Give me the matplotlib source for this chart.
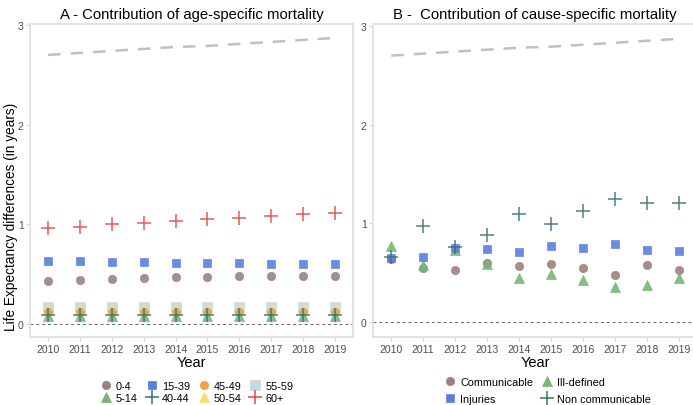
import matplotlib
matplotlib.use("Agg")
import matplotlib.pyplot as plt
from matplotlib.lines import Line2D

plt.rcParams['font.family'] = ['Liberation Sans', 'DejaVu Sans']

years = [2010, 2011, 2012, 2013, 2014, 2015, 2016, 2017, 2018, 2019]
total_le_diff = [2.70, 2.72, 2.74, 2.76, 2.78, 2.79, 2.81, 2.83, 2.85, 2.87]

# Panel A: age-specific contributions
age_groups = ['0-4', '5-14', '15-39', '40-44', '45-49', '50-54', '55-59', '60+']
age_0_4 = [0.43, 0.44, 0.45, 0.46, 0.47, 0.475, 0.48, 0.48, 0.48, 0.485]
age_5_14 = [0.08, 0.08, 0.08, 0.08, 0.08, 0.08, 0.08, 0.08, 0.08, 0.08]
age_15_39 = [0.635, 0.63, 0.625, 0.62, 0.615, 0.61, 0.61, 0.605, 0.60, 0.60]
age_40_44 = [0.09, 0.09, 0.09, 0.09, 0.09, 0.09, 0.09, 0.09, 0.09, 0.09]
age_45_49 = [0.12, 0.12, 0.12, 0.12, 0.12, 0.12, 0.12, 0.12, 0.12, 0.12]
age_50_54 = [0.15, 0.15, 0.15, 0.15, 0.15, 0.15, 0.15, 0.15, 0.15, 0.15]
age_55_59 = [0.17, 0.17, 0.17, 0.17, 0.17, 0.17, 0.17, 0.17, 0.17, 0.17]
age_60p = [0.96, 0.97, 1.00, 1.01, 1.03, 1.05, 1.06, 1.08, 1.10, 1.11]

# Panel B: cause-specific contributions
causes = ['Communicable', 'Injuries', 'Ill-defined', 'Non communicable']
communicable = [0.64, 0.545, 0.53, 0.595, 0.57, 0.59, 0.55, 0.48, 0.575, 0.525]
injuries = [0.65, 0.657, 0.75, 0.745, 0.71, 0.775, 0.755, 0.79, 0.735, 0.72]
ill_defined = [0.775, 0.58, 0.735, 0.585, 0.445, 0.487, 0.425, 0.355, 0.38, 0.445]
non_communicable = [0.657, 0.97, 0.765, 0.88, 1.10, 0.995, 1.13, 1.25, 1.205, 1.21]

c_brown = '#9a837e'
c_blue = '#5b7fe0'
c_green = '#74b874'
c_teal = '#3a7474'
c_orange = '#f4a040'
c_yellow = '#f2e06a'
c_lblue = '#c6d8e8'
c_red = '#ea4848'

styles_a = {
    '0-4': dict(marker='o', color=c_brown, ms=6),
    '5-14': dict(marker='^', color=c_green, ms=6.5),
    '15-39': dict(marker='s', color=c_blue, ms=6),
    '40-44': dict(marker='+', color=c_teal, ms=10, mew=1.1),
    '45-49': dict(marker='o', color=c_orange, ms=6),
    '50-54': dict(marker='^', color=c_yellow, ms=6.5),
    '55-59': dict(marker='s', color=c_lblue, ms=6.5),
    '60+': dict(marker='+', color=c_red, ms=10, mew=1.1),
}
data_a = {
    '0-4': age_0_4, '5-14': age_5_14, '15-39': age_15_39, '40-44': age_40_44,
    '45-49': age_45_49, '50-54': age_50_54, '55-59': age_55_59, '60+': age_60p,
}
draw_order_a = ['55-59', '50-54', '45-49', '0-4', '15-39', '5-14', '40-44', '60+']

styles_b = {
    'Communicable': dict(marker='o', color=c_brown, ms=6),
    'Injuries': dict(marker='s', color=c_blue, ms=6),
    'Ill-defined': dict(marker='^', color=c_green, ms=6.5),
    'Non communicable': dict(marker='+', color=c_teal, ms=10, mew=1.1),
}
data_b = {
    'Communicable': communicable, 'Injuries': injuries,
    'Ill-defined': ill_defined, 'Non communicable': non_communicable,
}
draw_order_b = ['Communicable', 'Ill-defined', 'Injuries', 'Non communicable']

W, H = 693, 406
fig = plt.figure(figsize=(W / 100, H / 100), dpi=100)

axA = fig.add_axes([30 / W, 1 - 338 / H, 323 / W, 313 / H])
axB = fig.add_axes([373 / W, 1 - 338 / H, 324 / W, 313 / H])


def style_axes(ax, ylim):
    ax.set_xlim(2009.43, 2019.57)
    ax.set_ylim(*ylim)
    ax.set_xticks(years)
    ax.set_xticklabels([str(y) for y in years])
    ax.set_yticks([0, 1, 2, 3])
    ax.set_yticklabels(['0', '1', '2', '3'])
    for s in ax.spines.values():
        s.set_color('#dedede')
        s.set_linewidth(1.2)
    ax.tick_params(axis='both', colors='#cfcfcf', length=3, width=0.6,
                   labelcolor='#4d4d4d', labelsize=7.5, pad=2)
    ax.tick_params(axis='y', pad=1.5)
    ax.axhline(0, color='#666666', lw=0.7, ls=(0, (3, 3)), zorder=1)
    ax.plot(years, total_le_diff, color='#c0c0c0', lw=1.8,
            ls=(0, (5, 4)), zorder=1)
    ax.set_xlabel('Year', fontsize=10.5, labelpad=1)


style_axes(axA, (-0.13, 3.01))
style_axes(axB, (-0.15, 3.02))

for k in draw_order_a:
    st = styles_a[k]
    axA.plot(years, data_a[k], ls='none', marker=st['marker'], color=st['color'],
             ms=st['ms'], mew=st.get('mew', 0.5), mec=st['color'], alpha=0.9, zorder=3)
for k in draw_order_b:
    st = styles_b[k]
    axB.plot(years, data_b[k], ls='none', marker=st['marker'], color=st['color'],
             ms=st['ms'], mew=st.get('mew', 0.5), mec=st['color'], alpha=0.9, zorder=3)

axA.set_ylabel('Life Expectancy differences (in years)', fontsize=9.8)
axA.yaxis.set_label_coords(-0.038, 0.387)
axA.set_title('A - Contribution of age-specific mortality', fontsize=10.7, pad=4)
axB.set_title('B -  Contribution of cause-specific mortality', fontsize=10.7, pad=4)

handles_a = [Line2D([], [], ls='none', marker=styles_a[k]['marker'], color=styles_a[k]['color'],
                    ms=styles_a[k]['ms'], mew=styles_a[k].get('mew', 0.5)) for k in age_groups]
fig.legend(handles_a, age_groups, ncol=4, loc='center', bbox_to_anchor=(197 / W, 1 - 393 / H),
           frameon=False, fontsize=7.8, handlelength=1.0, handletextpad=0.4,
           columnspacing=0.8, labelspacing=0.2, borderpad=0)

handles_b = [Line2D([], [], ls='none', marker=styles_b[k]['marker'], color=styles_b[k]['color'],
                    ms=styles_b[k]['ms'], mew=styles_b[k].get('mew', 0.5)) for k in causes]
fig.legend(handles_b, causes, ncol=2, loc='center', bbox_to_anchor=(548 / W, 1 - 391.5 / H),
           frameon=False, fontsize=7.8, handlelength=1.0, handletextpad=0.4,
           columnspacing=0.8, labelspacing=0.65, borderpad=0)

fig.savefig('out.png', dpi=100)
